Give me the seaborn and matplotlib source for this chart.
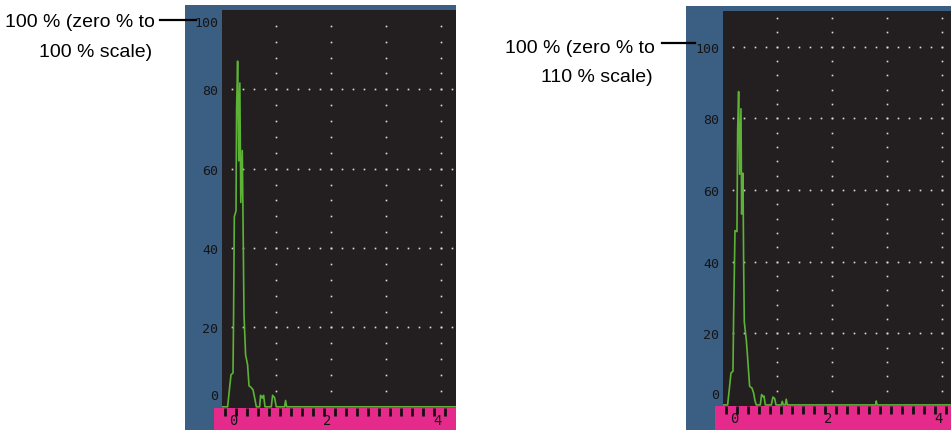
import matplotlib
matplotlib.use('Agg')
import matplotlib.pyplot as plt
from matplotlib.lines import Line2D
import numpy as np
import seaborn as sns

# A-scan trace, left screen (0 % to 100 % scale) - x in ruler units, amplitude in %
left_x = [0.14, 0.242, 0.278, 0.304, 0.34, 0.351, 0.364, 0.395, 0.405, 0.424,
          0.445, 0.464, 0.482, 0.509, 0.527, 0.54, 0.569, 0.605, 0.631, 0.667,
          0.704, 0.74, 0.764, 0.824, 0.842, 0.873, 0.896, 0.922, 1.036, 1.06,
          1.096, 1.127, 1.278, 1.296, 1.315, 4.4]
left_amp = [0, 0, 4.8, 8.1, 8.5, 23.6, 47.9, 49.4, 74.7, 87.1,
            62.0, 81.6, 51.5, 64.6, 41.0, 23.2, 13.1, 10.6, 5.3, 4.9,
            4.3, 1.8, 0, 0, 2.9, 2.2, 2.9, 0, 0, 2.9,
            2.3, 0, 0, 1.6, 0, 0]

# A-scan trace, right screen (0 % to 110 % scale)
right_x = [0.133, 0.224, 0.26, 0.285, 0.321, 0.333, 0.358, 0.394, 0.406, 0.424,
           0.442, 0.467, 0.479, 0.503, 0.515, 0.527, 0.564, 0.588, 0.624, 0.667,
           0.697, 0.721, 0.745, 0.818, 0.842, 0.867, 0.885, 0.909, 1.018, 1.048,
           1.079, 1.103, 1.2, 1.218, 1.236, 1.273, 1.29, 1.309, 2.915, 2.927,
           2.94, 4.29]
right_amp = [0, 0, 5.2, 8.9, 9.4, 24.6, 48.7, 48.4, 76.5, 87.5,
             64.4, 82.7, 53.3, 64.7, 39.9, 23.2, 18.1, 13.1, 5.2, 4.7,
             3.3, 1.2, 0, 0, 2.9, 2.3, 2.5, 0, 0, 2.2,
             1.8, 0, 0, 1.0, 0, 0, 1.6, 0, 0, 1.1,
             0, 0]

amp_ticks = [0, 20, 40, 60, 80, 100]
ruler_labels = [0, 2, 4]
left_callout = ['100 % (zero % to', '100 % scale)']
right_callout = ['100 % (zero % to', '110 % scale)']

W, H = 951, 431
PX_PER_UNIT = 55.0
BLUE = '#3b5e83'
SCREEN = '#231f20'
PINK = '#e62a8c'
GREEN = '#5cb335'
DOT = '#dcdcdc'
LCD = '#151515'

plt.rcParams['font.family'] = ['Liberation Sans', 'DejaVu Sans']

fig = plt.figure(figsize=(W / 100, H / 100), dpi=100)


def px_axes(x0, y0, x1, y1):
    return fig.add_axes([x0 / W, 1 - y1 / H, (x1 - x0) / W, (y1 - y0) / H])


def bare(ax):
    ax.set_xticks([])
    ax.set_yticks([])
    for s in ax.spines.values():
        s.set_visible(False)


def screen(ox, top_y, base_y, x_right, ymax, xs, amps):
    frame = px_axes(ox, top_y - 5, x_right, H)
    frame.set_facecolor(BLUE)
    bare(frame)

    ruler_left = ox + 29.3
    ax = px_axes(ox + 36.7, top_y, x_right, base_y)
    ax.set_facecolor(SCREEN)
    bare(ax)
    x0 = (ox + 36.7 - ruler_left) / PX_PER_UNIT
    x1 = (x_right - ruler_left) / PX_PER_UNIT
    ax.set_xlim(x0, x1)
    ax.set_ylim(-0.3, ymax)

    # dotted graticule
    hx = np.arange(0.32, x1, 0.2)
    for yv in range(20, int(ymax), 20):
        if yv < ymax - 1:
            ax.plot(hx, [yv] * len(hx), ls='none', marker='s', ms=1.2,
                    mec='none', mfc=DOT)
    vy = np.arange(4, ymax - 1, 4)
    for gx in [1.12, 2.12, 3.12, 4.12]:
        if gx < x1:
            ax.plot([gx] * len(vy), vy, ls='none', marker='s', ms=1.2,
                    mec='none', mfc=DOT)

    sns.lineplot(x=xs, y=amps, ax=ax, color=GREEN, linewidth=1.2,
                 estimator=None, sort=False, legend=False)
    ax.set_xlabel('')
    ax.set_ylabel('')

    pos = [min(max(v, 3.2), ymax - 2.8) for v in amp_ticks]
    ax.set_yticks(pos)
    ax.set_yticklabels([str(v) for v in amp_ticks], family='DejaVu Sans Mono')
    ax.tick_params(axis='y', length=0, pad=2.4, labelsize=9.5, labelcolor=LCD)

    ruler = px_axes(ruler_left, base_y, x_right, H)
    ruler.set_facecolor(PINK)
    bare(ruler)
    rh = H - base_y
    ruler.set_xlim(0, x1)
    ruler.set_ylim(0, 1)
    ruler.vlines(np.arange(0.2, x1, 0.2), 1 - 7.5 / rh, 1, color='#111111', lw=2.0)
    for v in ruler_labels:
        ruler.text(max(v + 0.05, 0.35), 1 - 12.5 / rh, str(v), ha='center',
                   va='center', fontsize=10, color=LCD, family='DejaVu Sans Mono')
    return ax


screen(185, 11, 409, 456, 100, left_x, left_amp)
screen(686, 12, 407, 951, 110, right_x, right_amp)

# callouts
fig.text(155 / W, 1 - 27.3 / H, left_callout[0], ha='right', va='baseline', fontsize=14)
fig.text(152 / W, 1 - 57.3 / H, left_callout[1], ha='right', va='baseline', fontsize=14)
fig.add_artist(Line2D([160 / W, 196 / W], [1 - 20.7 / H] * 2, color='black', lw=1.6))

fig.text(655 / W, 1 - 53.3 / H, right_callout[0], ha='right', va='baseline', fontsize=14)
fig.text(653 / W, 1 - 81.7 / H, right_callout[1], ha='right', va='baseline', fontsize=14)
fig.add_artist(Line2D([662 / W, 695 / W], [1 - 44.3 / H] * 2, color='black', lw=1.6))

fig.savefig('out.png', dpi=100, facecolor='white')
